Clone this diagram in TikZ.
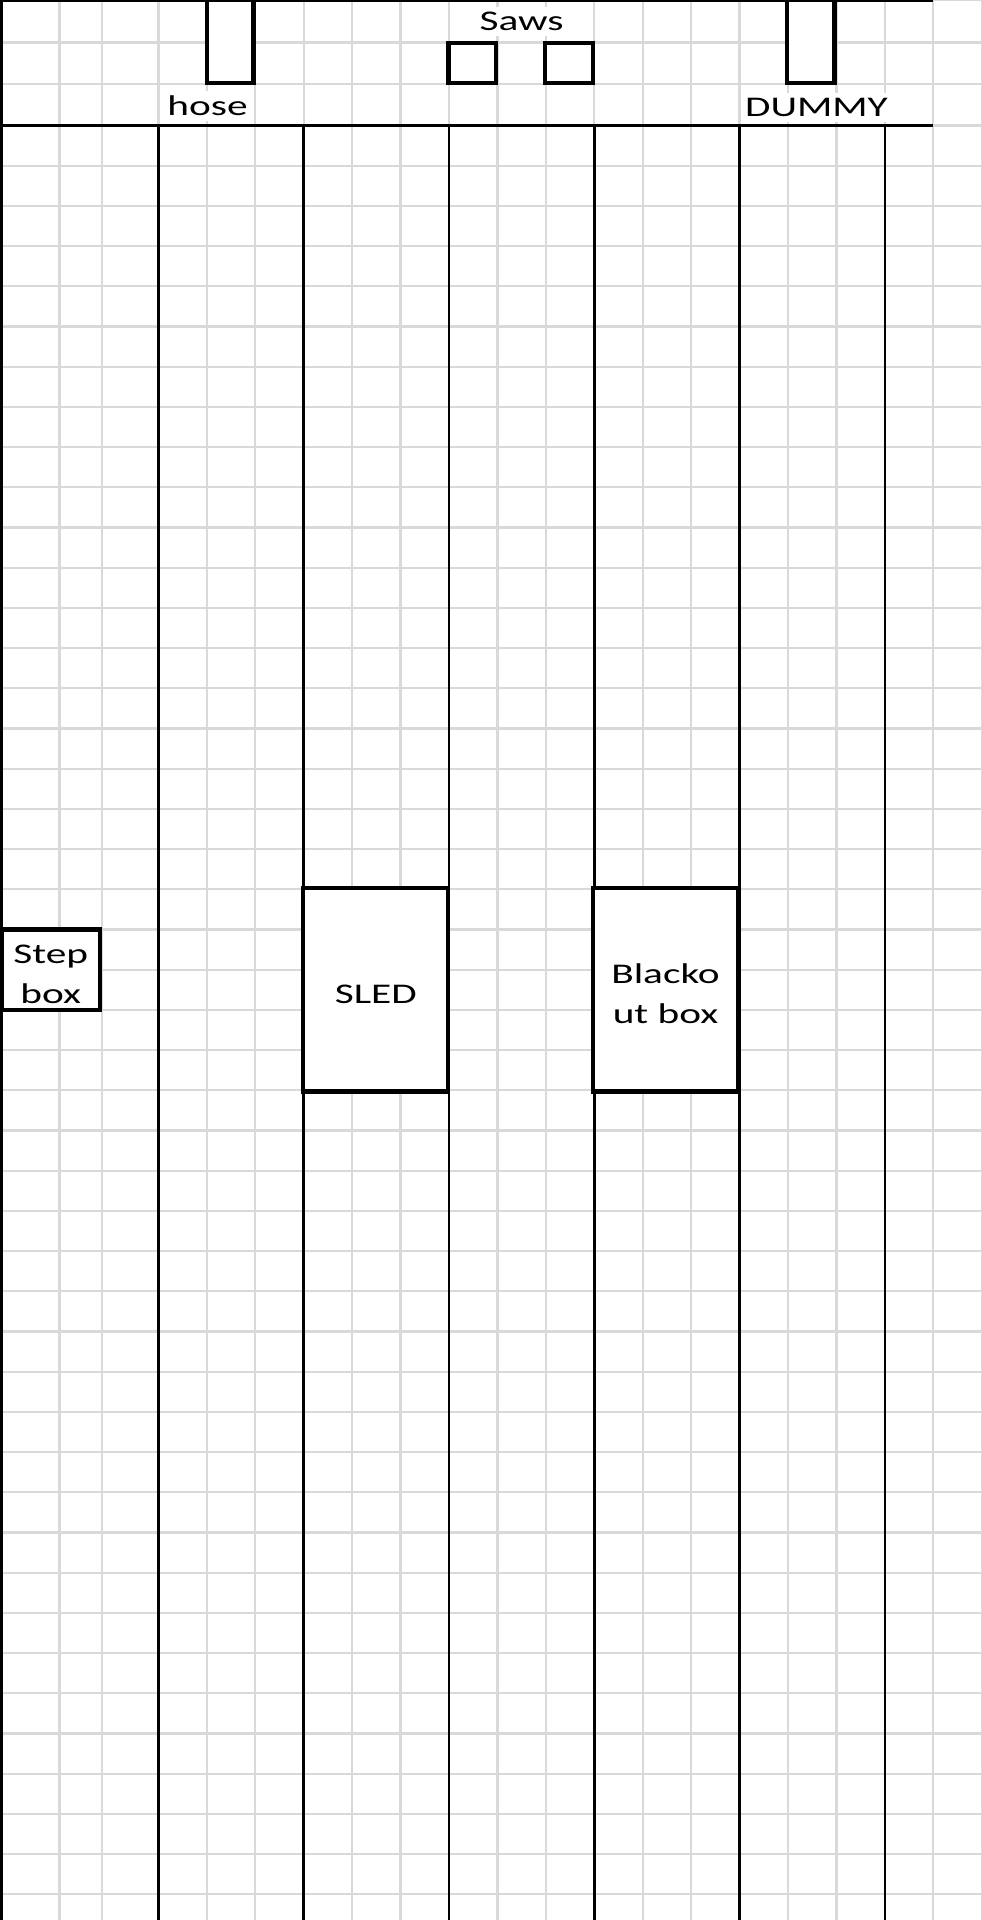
\documentclass[tikz,border=0pt]{standalone}
\usepackage{fontspec}
\setmainfont{Carlito}[FakeStretch=1.45]
\definecolor{SheetGrey}{RGB}{217,217,217}
\usepackage{tikz}
\newcommand{\cellstrut}{\rule{0pt}{27pt}}

\begin{document}
\begin{tikzpicture}[x=1pt,y=-1pt,
      cell/.style={draw=SheetGrey,line width=2.2pt},
      wall/.style={draw=black,line width=2.6pt},
      slot/.style={draw=black,line width=4.6pt,fill=white},
      unit/.style={draw=black,line width=4.2pt,fill=white,anchor=north west,inner sep=0pt,outer sep=0pt,
                   align=center,font=\fontsize{28.5}{40}\selectfont},
      tag/.style={fill=white,anchor=base,inner xsep=4pt,inner ysep=5pt,font=\fontsize{28.5}{40}\selectfont}]
    \useasboundingbox[fill=white] (0,0) rectangle (982,1920);
    \foreach \x in {59.5,102} \draw[cell] (\x,0) -- (\x,1920);
    \foreach \j in {0,...,17} \draw[cell] (158.4+48.43*\j,0) -- (158.4+48.43*\j,1920);
    \foreach \y in {0,42.5,84} \draw[cell] (0,\y) -- (982,\y);
    \foreach \k in {0,...,44} \draw[cell] (0,125.5+40.2*\k) -- (982,125.5+40.2*\k);
    \node[tag] (saws) at (521.6,30.7) {Saws};
    \node[tag] (hose) at (207.5,115.7) {hose};
    \node[tag] (dummy) at (816.5,116.5) {DUMMY};
    \draw[wall] (0,1) -- (933.3,1);
    \draw[wall] (1.5,0) -- (1.5,1920);
    \draw[wall,line width=3.2pt] (0,125.5) -- (933.3,125.5);
    \foreach \j in {0,3,...,15} \draw[wall] (158.4+48.43*\j,125.5) -- (158.4+48.43*\j,1920);
    \draw[slot] (206.8,0) rectangle (253.5,83);
    \draw[slot] (448.3,42.8) rectangle (495.8,83);
    \draw[slot] (545,42.8) rectangle (593,83);
    \draw[slot] (786.8,0) rectangle (834.5,83);
    \node[unit,minimum width=98.5pt,minimum height=80.4pt] (stepbox) at (1.5,929.5) {\cellstrut Step\\box};
    \node[unit,minimum width=145pt,minimum height=203.5pt] (sled) at (303.3,888) {\cellstrut SLED};
    \node[unit,minimum width=145pt,minimum height=203.5pt] (blackout) at (593,888) {\cellstrut Blacko\\ut box};
  \end{tikzpicture}
\end{document}
